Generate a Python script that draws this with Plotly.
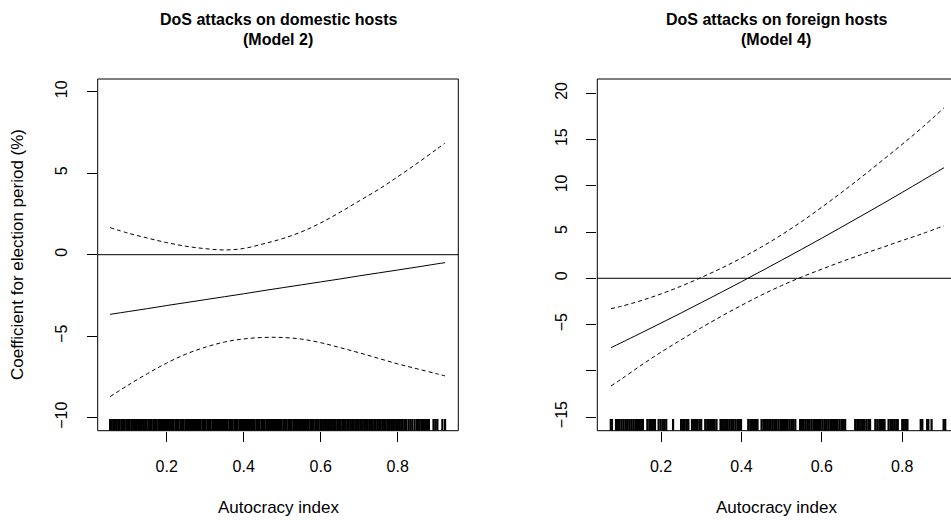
import plotly.graph_objects as go

# ---------------- data ----------------
autocracy_dom = [0.053, 0.10, 0.15, 0.20, 0.25, 0.30, 0.35, 0.40, 0.45, 0.50,
                 0.55, 0.60, 0.65, 0.70, 0.75, 0.80, 0.85, 0.90, 0.923]
coef_dom = [-3.66, -3.49, -3.31, -3.12, -2.94, -2.76, -2.58, -2.40, -2.21, -2.03,
            -1.85, -1.67, -1.49, -1.30, -1.12, -0.94, -0.76, -0.57, -0.49]
upper_dom = [1.66, 1.32, 1.02, 0.74, 0.52, 0.37, 0.29, 0.38, 0.66, 0.98,
             1.40, 1.95, 2.60, 3.30, 4.00, 4.78, 5.60, 6.45, 6.85]
lower_dom = [-8.71, -8.00, -7.30, -6.65, -6.10, -5.68, -5.36, -5.17, -5.08, -5.08,
             -5.18, -5.40, -5.70, -6.02, -6.36, -6.70, -7.00, -7.30, -7.44]

autocracy_for = [0.0756, 0.10, 0.15, 0.20, 0.25, 0.30, 0.35, 0.40, 0.45, 0.50,
                 0.55, 0.60, 0.65, 0.70, 0.75, 0.80, 0.85, 0.904]
coef_for = [-7.50, -6.99, -5.92, -4.84, -3.75, -2.63, -1.51, -0.37, 0.79, 1.96,
            3.14, 4.34, 5.56, 6.79, 8.03, 9.29, 10.57, 11.96]
upper_for = [-3.28, -3.04, -2.42, -1.69, -0.85, 0.09, 1.09, 2.19, 3.39, 4.71,
             6.14, 7.69, 9.31, 10.99, 12.73, 14.49, 16.32, 18.44]
lower_for = [-11.64, -10.94, -9.42, -7.99, -6.65, -5.35, -4.11, -2.93, -1.81, -0.79,
             0.14, 0.99, 1.81, 2.59, 3.33, 4.09, 4.82, 5.69]

rug_dom = [0.053, 0.056, 0.061, 0.065, 0.069, 0.074, 0.078, 0.083, 0.087, 0.091, 0.096, 0.100,
           0.104, 0.109, 0.113, 0.118, 0.122, 0.126, 0.131, 0.135, 0.139, 0.144, 0.148, 0.153,
           0.157, 0.161, 0.166, 0.170, 0.174, 0.179, 0.183, 0.188, 0.192, 0.196, 0.201, 0.205,
           0.209, 0.214, 0.218, 0.223, 0.227, 0.231, 0.236, 0.240, 0.244, 0.249, 0.253, 0.258,
           0.262, 0.266, 0.271, 0.275, 0.279, 0.284, 0.288, 0.293, 0.297, 0.301, 0.306, 0.310,
           0.314, 0.319, 0.323, 0.328, 0.332, 0.336, 0.341, 0.345, 0.349, 0.354, 0.358, 0.363,
           0.367, 0.371, 0.376, 0.380, 0.384, 0.389, 0.393, 0.398, 0.402, 0.406, 0.411, 0.415,
           0.419, 0.424, 0.428, 0.433, 0.437, 0.441, 0.446, 0.450, 0.454, 0.459, 0.463, 0.468,
           0.472, 0.476, 0.481, 0.485, 0.489, 0.494, 0.498, 0.503, 0.507, 0.511, 0.516, 0.520,
           0.524, 0.529, 0.533, 0.538, 0.542, 0.546, 0.551, 0.555, 0.559, 0.564, 0.568, 0.573,
           0.577, 0.581, 0.586, 0.590, 0.594, 0.599, 0.603, 0.608, 0.612, 0.616, 0.621, 0.625,
           0.629, 0.634, 0.638, 0.643, 0.647, 0.651, 0.656, 0.660, 0.664, 0.669, 0.673, 0.678,
           0.682, 0.686, 0.691, 0.695, 0.699, 0.704, 0.708, 0.713, 0.717, 0.721, 0.726, 0.730,
           0.734, 0.739, 0.743, 0.748, 0.752, 0.756, 0.761, 0.765, 0.769, 0.774, 0.778, 0.783,
           0.787, 0.791, 0.796, 0.800, 0.804, 0.809, 0.813, 0.818, 0.822, 0.828, 0.833, 0.838,
           0.844, 0.850, 0.855, 0.861, 0.866, 0.871, 0.876, 0.881, 0.893, 0.898, 0.903, 0.916,
           0.923]

rug_for = [0.075, 0.078, 0.088, 0.093, 0.097, 0.102, 0.107, 0.112, 0.116, 0.121, 0.126, 0.131,
           0.136, 0.140, 0.145, 0.150, 0.155, 0.166, 0.171, 0.175, 0.180, 0.185, 0.194, 0.199,
           0.204, 0.208, 0.213, 0.230, 0.250, 0.255, 0.259, 0.264, 0.268, 0.277, 0.282, 0.287,
           0.291, 0.296, 0.300, 0.310, 0.315, 0.319, 0.324, 0.329, 0.333, 0.338, 0.348, 0.352,
           0.357, 0.362, 0.366, 0.371, 0.376, 0.380, 0.385, 0.390, 0.394, 0.399, 0.417, 0.422,
           0.426, 0.431, 0.436, 0.440, 0.450, 0.455, 0.459, 0.464, 0.469, 0.473, 0.478, 0.483,
           0.487, 0.492, 0.497, 0.501, 0.506, 0.511, 0.515, 0.520, 0.525, 0.529, 0.534, 0.546,
           0.551, 0.555, 0.560, 0.565, 0.569, 0.574, 0.579, 0.583, 0.588, 0.593, 0.597, 0.602,
           0.607, 0.611, 0.616, 0.621, 0.625, 0.630, 0.635, 0.639, 0.644, 0.649, 0.653, 0.658,
           0.683, 0.688, 0.692, 0.697, 0.702, 0.706, 0.711, 0.716, 0.720, 0.733, 0.738, 0.743,
           0.747, 0.752, 0.756, 0.766, 0.771, 0.775, 0.780, 0.785, 0.789, 0.800, 0.804, 0.809,
           0.813, 0.846, 0.850, 0.862, 0.865, 0.873, 0.903, 0.907]

x_ticks = [0.2, 0.4, 0.6, 0.8]
x_ticktext = ["0.2", "0.4", "0.6", "0.8"]
y_ticks_dom = [-10, -5, 0, 5, 10]
y_ticktext_dom = ["\u221210", "\u22125", "0", "5", "10"]
y_ticks_for = [-15, -10, -5, 0, 5, 10, 15, 20]
y_ticktext_for = ["\u221215", "", "\u22125", "0", "5", "10", "15", "20"]

titles_dom = ["DoS attacks on domestic hosts", "(Model 2)"]
titles_for = ["DoS attacks on foreign hosts", "(Model 4)"]
x_title = "Autocracy index"
y_title = "Coefficient for election period (%)"

# ---------------- layout constants ----------------
FONT = "Liberation Sans, Arial, Helvetica, sans-serif"
TICK = 16
LAB = 17
MAIN = 16
W, H = 951, 520
ydom = [1 - 430.7 / H, 1 - 79 / H]
xdom1 = [97.7 / W, 458.3 / W]
xdom2 = [597.3 / W, 1.0]
xr1 = [0.0208, 0.9574]
yr1 = [-10.80, 10.78]
xr2 = [0.0415, 0.9213]
yr2 = [-16.48, 21.55]
RUG_FRAC = 0.033

fig = go.Figure()


def add_panel(xs, est, up, lo, rug, yr, xa, ya):
    solid = dict(color="black", width=1)
    dashed = dict(color="black", width=1, dash="4px,3px")
    fig.add_trace(go.Scatter(x=xs, y=est, mode="lines", line=solid, line_shape="spline",
                             xaxis=xa, yaxis=ya, hoverinfo="skip"))
    fig.add_trace(go.Scatter(x=xs, y=up, mode="lines", line=dashed, line_shape="spline",
                             xaxis=xa, yaxis=ya, hoverinfo="skip"))
    fig.add_trace(go.Scatter(x=xs, y=lo, mode="lines", line=dashed, line_shape="spline",
                             xaxis=xa, yaxis=ya, hoverinfo="skip"))
    y0 = yr[0]
    y1 = yr[0] + RUG_FRAC * (yr[1] - yr[0])
    rx, ry = [], []
    for v in rug:
        rx += [v, v, None]
        ry += [y0, y1, None]
    fig.add_trace(go.Scatter(x=rx, y=ry, mode="lines", line=dict(color="black", width=2.2),
                             xaxis=xa, yaxis=ya, hoverinfo="skip", connectgaps=False))


add_panel(autocracy_dom, coef_dom, upper_dom, lower_dom, rug_dom, yr1, "x", "y")
add_panel(autocracy_for, coef_for, upper_for, lower_for, rug_for, yr2, "x2", "y2")

axis_common = dict(showgrid=False, zeroline=False, showline=False, ticks="outside",
                   ticklen=10, tickwidth=1, tickcolor="black",
                   tickfont=dict(family=FONT, size=TICK, color="black"))

fig.update_layout(
    width=W, height=H,
    margin=dict(l=0, r=0, t=0, b=0),
    paper_bgcolor="white", plot_bgcolor="white",
    showlegend=False,
    xaxis=dict(domain=xdom1, range=xr1, anchor="y", tickvals=x_ticks, ticktext=x_ticktext,
               ticklabelstandoff=11, **axis_common),
    yaxis=dict(domain=ydom, range=yr1, anchor="x", tickvals=y_ticks_dom, ticktext=y_ticktext_dom,
               tickangle=-90, ticklabelstandoff=13, **axis_common),
    xaxis2=dict(domain=xdom2, range=xr2, anchor="y2", tickvals=x_ticks, ticktext=x_ticktext,
                ticklabelstandoff=11, **axis_common),
    yaxis2=dict(domain=ydom, range=yr2, anchor="x2", tickvals=y_ticks_for, ticktext=y_ticktext_for,
                tickangle=-90, ticklabelstandoff=13, **axis_common),
)

# zero reference lines and boxes
for xa, ya, x1 in (("x", "y", 1.0), ("x2", "y2", 1.05)):
    fig.add_shape(type="line", xref=f"{xa} domain", yref=ya, x0=0, x1=x1, y0=0, y1=0,
                  line=dict(color="black", width=1))
    fig.add_shape(type="rect", xref=f"{xa} domain", yref=f"{ya} domain", x0=0, x1=x1, y0=0, y1=1,
                  line=dict(color="black", width=1), fillcolor="rgba(0,0,0,0)")

# titles
for cx, ttl in ((sum(xdom1) / 2, titles_dom), (sum(xdom2) / 2 + 0.002, titles_for)):
    fig.add_annotation(text=f"<b>{ttl[0]}</b>", x=cx, y=1 - 20 / H, xref="paper", yref="paper",
                       showarrow=False, xanchor="center", yanchor="middle",
                       font=dict(family=FONT, size=MAIN, color="black"))
    fig.add_annotation(text=f"<b>{ttl[1]}</b>", x=cx, y=1 - 40 / H, xref="paper", yref="paper",
                       showarrow=False, xanchor="center", yanchor="middle",
                       font=dict(family=FONT, size=MAIN, color="black"))
    fig.add_annotation(text=x_title, x=cx, y=1 - 507 / H, xref="paper", yref="paper",
                       showarrow=False, xanchor="center", yanchor="middle",
                       font=dict(family=FONT, size=LAB, color="black"))

fig.add_annotation(text=y_title, x=17 / W, y=1 - 255 / H, xref="paper", yref="paper",
                   showarrow=False, textangle=-90, xanchor="center", yanchor="middle",
                   font=dict(family=FONT, size=LAB, color="black"))

fig.write_html("out.html")
